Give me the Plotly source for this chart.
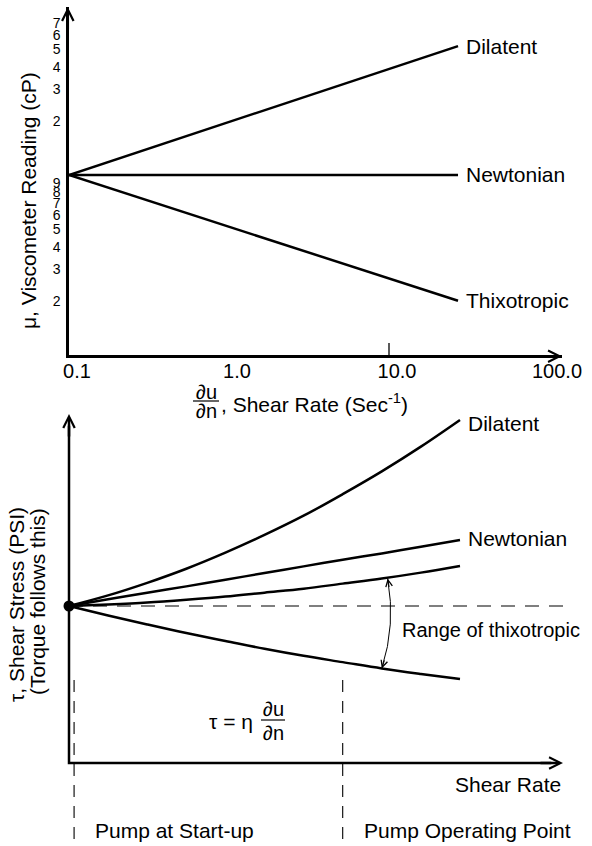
import plotly.graph_objects as go
import math

W, H = 592, 846
FONT = "Liberation Sans, Arial, Helvetica, sans-serif"

# ---------------- data: top chart (log-log viscosity vs shear rate) ----------------
top_shear = [0.1, 27]
top_dilatent = [10, 52]
top_newtonian = [10, 10]
top_thixotropic = [10, 2]
curve_names = ["Dilatent", "Newtonian", "Thixotropic"]

x_tickvals = [0.1, 1, 10, 100]
x_ticktext = ["0.1", "1.0", "10.0", "100.0"]
y_tickvals = [2, 3, 4, 5, 6, 7, 8, 9, 20, 30, 40, 50, 60, 70]
y_ticktext = ["2", "3", "4", "5", "6", "7", "8", "9", "2", "3", "4", "5", "6", "7"]

# ---------------- data: bottom chart (shear stress vs shear rate) ----------------
bot_rate = [0, 1, 2, 3, 4, 5, 6, 7, 8, 9, 10]
bot_dilatent = [4.00, 4.27, 4.59, 4.95, 5.36, 5.81, 6.30, 6.85, 7.43, 8.06, 8.74]
bot_newtonian = [4.00, 4.17, 4.34, 4.50, 4.67, 4.84, 5.01, 5.18, 5.34, 5.51, 5.68]
bot_thixo_high = [4.00, 4.04, 4.09, 4.16, 4.24, 4.34, 4.44, 4.57, 4.70, 4.85, 5.02]
bot_thixo_low = [4.00, 3.76, 3.53, 3.31, 3.11, 2.91, 2.73, 2.57, 2.41, 2.27, 2.14]
yield_point = 4.0
pump_points = [0.13, 7.0]
pump_labels = ["Pump at Start-up", "Pump Operating Point"]


def px_x(p):
    return p / W


def px_y(p):
    return 1 - p / H


# bottom chart pixel mapping (origin at pixel 69,763)
BX0, BY0, BSX, BSY = 69, 763, 39.1, 39.25


def bx(p):
    return (p - BX0) / BSX


def by(p):
    return (BY0 - p) / BSY


fig = go.Figure()

line_style = dict(color="black", width=2.5)
for yv in (top_dilatent, top_newtonian, top_thixotropic):
    fig.add_trace(go.Scatter(x=top_shear, y=yv, mode="lines", line=line_style,
                             xaxis="x", yaxis="y", hoverinfo="skip"))

for yv in (bot_dilatent, bot_newtonian, bot_thixo_high, bot_thixo_low):
    fig.add_trace(go.Scatter(x=bot_rate, y=yv, mode="lines", line=dict(color="black", width=2.5, shape="spline"),
                             xaxis="x2", yaxis="y2", hoverinfo="skip"))

fig.add_trace(go.Scatter(x=[0], y=[yield_point], mode="markers",
                         marker=dict(color="black", size=11), xaxis="x2", yaxis="y2", hoverinfo="skip"))

ann = []
shapes = []
txt = dict(family=FONT, size=21, color="black")

# ---- top chart labels at curve ends
for name, yv in zip(curve_names, (top_dilatent, top_newtonian, top_thixotropic)):
    ann.append(dict(x=math.log10(top_shear[-1]), y=math.log10(yv[-1]), xref="x", yref="y",
                    text=name, showarrow=False, xanchor="left", yanchor="middle", xshift=6, font=txt))

# axis arrows (top)
ann.append(dict(x=px_x(562), y=px_y(356.2), xref="paper", yref="paper", ax=-24, ay=0, text="",
                showarrow=True, arrowhead=5, arrowwidth=2.5, arrowsize=0.9, arrowcolor="black"))
ann.append(dict(x=px_x(67.8), y=px_y(7), xref="paper", yref="paper", ax=0, ay=24, text="",
                showarrow=True, arrowhead=5, arrowwidth=2.5, arrowsize=0.9, arrowcolor="black"))
# tick at 10
shapes.append(dict(type="line", xref="x", yref="y domain", x0=10, x1=10, y0=0, y1=12 / 348,
                   line=dict(color="black", width=1.3)))

# top titles
ann.append(dict(x=px_x(29), y=px_y(201), xref="paper", yref="paper", text="μ, Viscometer Reading (cP)",
                textangle=-90, showarrow=False, xanchor="center", yanchor="middle", font=txt))
ann.append(dict(x=px_x(206), y=px_y(392), xref="paper", yref="paper", text="∂u", showarrow=False,
                xanchor="center", yanchor="middle", font=dict(family=FONT, size=20, color="black")))
ann.append(dict(x=px_x(206), y=px_y(411), xref="paper", yref="paper", text="∂n", showarrow=False,
                xanchor="center", yanchor="middle", font=dict(family=FONT, size=20, color="black")))
shapes.append(dict(type="line", xref="paper", yref="paper", x0=px_x(193), x1=px_x(219), y0=px_y(401), y1=px_y(401),
                   line=dict(color="black", width=1.2)))
ann.append(dict(x=px_x(219), y=px_y(403), xref="paper", yref="paper", text=", Shear Rate (Sec<sup>-1</sup>)",
                showarrow=False, xanchor="left", yanchor="middle", font=txt))

# ---- bottom chart
xtip, ytip = bx(563), by(414)
shapes.append(dict(type="path", xref="x2", yref="y2", path=f"M 0,{ytip - 0.3} L 0,0 L {xtip - 0.3},0",
                   line=dict(color="black", width=2.5)))
ann.append(dict(x=xtip, y=0, xref="x2", yref="y2", ax=-24, ay=0, text="", showarrow=True, arrowhead=5,
                arrowwidth=2.5, arrowsize=0.9, arrowcolor="black"))
ann.append(dict(x=0, y=ytip, xref="x2", yref="y2", ax=0, ay=24, text="", showarrow=True, arrowhead=5,
                arrowwidth=2.5, arrowsize=0.9, arrowcolor="black"))

# horizontal dashed at yield point
shapes.append(dict(type="line", xref="x2", yref="y2", x0=0, x1=bx(565), y0=yield_point, y1=yield_point,
                   line=dict(color="black", width=1.1, dash="14px,10px")))
# vertical dashed lines at pump points
for xp in pump_points:
    shapes.append(dict(type="line", xref="x2", yref="y2", x0=xp, x1=xp, y0=by(680), y1=by(840),
                       line=dict(color="black", width=1.1, dash="12px,9px")))
for xp, lab in zip(pump_points, pump_labels):
    ann.append(dict(x=xp, y=by(830), xref="x2", yref="y2", text=lab, showarrow=False,
                    xanchor="left", yanchor="middle", xshift=19, font=txt))

# curve labels bottom
ann.append(dict(x=bot_rate[-1], y=bot_dilatent[-1], xref="x2", yref="y2", text="Dilatent", showarrow=False,
                xanchor="left", yanchor="middle", xshift=6, yshift=-4, font=txt))
ann.append(dict(x=bot_rate[-1], y=bot_newtonian[-1], xref="x2", yref="y2", text="Newtonian", showarrow=False,
                xanchor="left", yanchor="middle", xshift=6, yshift=2, font=txt))

# range of thixotropic arrow
top_tip = (8.15, 4.70)
bot_tip = (8.0, 2.41)
ctrl = (8.36, 3.52)
shapes.append(dict(type="path", xref="x2", yref="y2",
                   path=f"M {top_tip[0]},{top_tip[1]} Q {ctrl[0]},{ctrl[1]} {bot_tip[0]},{bot_tip[1]}",
                   line=dict(color="black", width=1)))
ann.append(dict(x=top_tip[0], y=top_tip[1], xref="x2", yref="y2", ax=1.75, ay=9.85, text="", showarrow=True,
                arrowhead=5, arrowwidth=1, arrowsize=1.3, arrowcolor="black"))
ann.append(dict(x=bot_tip[0], y=bot_tip[1], xref="x2", yref="y2", ax=3.1, ay=-9.5, text="", showarrow=True,
                arrowhead=5, arrowwidth=1, arrowsize=1.3, arrowcolor="black"))
ann.append(dict(x=bx(400), y=by(630), xref="x2", yref="y2", text="Range of thixotropic", showarrow=False,
                xanchor="left", yanchor="middle", font=dict(family=FONT, size=20, color="black")))

# formula
ann.append(dict(x=bx(255), y=by(721), xref="x2", yref="y2", text="τ = η", showarrow=False,
                xanchor="right", yanchor="middle", font=txt))
ann.append(dict(x=bx(273), y=by(709), xref="x2", yref="y2", text="∂u", showarrow=False,
                xanchor="center", yanchor="middle", font=dict(family=FONT, size=20, color="black")))
ann.append(dict(x=bx(273), y=by(733), xref="x2", yref="y2", text="∂n", showarrow=False,
                xanchor="center", yanchor="middle", font=dict(family=FONT, size=20, color="black")))
shapes.append(dict(type="line", xref="x2", yref="y2", x0=bx(261), x1=bx(285), y0=by(720), y1=by(720),
                   line=dict(color="black", width=1.2)))

# shear rate label
ann.append(dict(x=bx(563), y=by(784), xref="x2", yref="y2", text="Shear Rate", showarrow=False,
                xanchor="right", yanchor="middle", font=txt))

# bottom y titles
ann.append(dict(x=px_x(16), y=px_y(605), xref="paper", yref="paper", text="τ, Shear Stress (PSI)",
                textangle=-90, showarrow=False, xanchor="center", yanchor="middle", font=txt))
ann.append(dict(x=px_x(37), y=px_y(602), xref="paper", yref="paper", text="(Torque follows this)",
                textangle=-90, showarrow=False, xanchor="center", yanchor="middle", font=txt))

fig.update_layout(
    template="none",
    width=W, height=H, margin=dict(l=0, r=0, t=0, b=0, pad=0, autoexpand=False),
    paper_bgcolor="white", plot_bgcolor="rgba(0,0,0,0)", showlegend=False,
    font=dict(family=FONT, color="black"),
    xaxis=dict(type="log", domain=[px_x(69), px_x(562)], range=[-1, -1 + (562 - 69) / 160],
               showline=True, linewidth=2.5, linecolor="black", ticks="", tickvals=x_tickvals,
               ticktext=x_ticktext, tickfont=dict(size=20, family=FONT, color="black"), ticklabelshift=8,
               ticklabelstandoff=-4,
               showgrid=False, zeroline=False, anchor="y", fixedrange=True, automargin=False),
    yaxis=dict(type="log", domain=[px_y(355), px_y(7)], range=[0, 1 + (175 - 7) / 180],
               showline=True, linewidth=2.5, linecolor="black", ticks="", tickvals=y_tickvals,
               ticktext=y_ticktext, tickfont=dict(size=14, family=FONT, color="black"), ticklabelstandoff=3,
               showgrid=False, zeroline=False, anchor="x", fixedrange=True, automargin=False),
    xaxis2=dict(domain=[px_x(45), px_x(580)], range=[bx(45), bx(580)], visible=False, anchor="y2",
                fixedrange=True, automargin=False),
    yaxis2=dict(domain=[px_y(846), px_y(400)], range=[by(846), by(400)], visible=False, anchor="x2",
                fixedrange=True, automargin=False),
    annotations=ann, shapes=shapes,
)

fig.write_html("out.html", config={"displayModeBar": False},
               post_script="document.body.style.margin='0';document.body.style.overflow='hidden';")
